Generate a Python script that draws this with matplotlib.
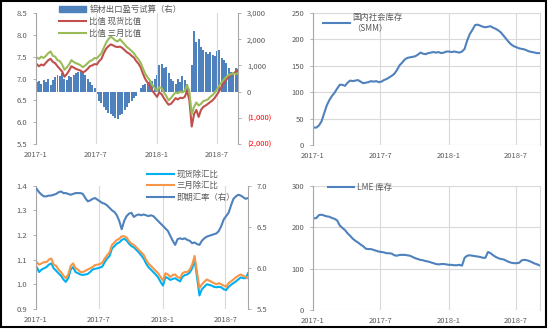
import numpy as np
import pandas as pd
import matplotlib
matplotlib.use('Agg')
import matplotlib.pyplot as plt
from matplotlib.ticker import FormatStrFormatter
from matplotlib.patches import Patch, Rectangle
from matplotlib.lines import Line2D

plt.rcParams['font.family'] = ['Noto Sans CJK SC', 'DejaVu Sans']
plt.rcParams['font.size'] = 5.5

# weekly observations, 2017-01-03 .. 2018-09-04
dates = pd.date_range('2017-01-03', periods=88, freq='7D')

# aluminium export profit estimate (right axis, yuan/t)
export_profit = [350, 400, 300, 450, 350, 500, 250, 450, 550, 650, 600, 700,
                 500, 450, 600, 550, 650, 700, 750, 800, 700, 650, 500, 350,
                 250, 150, -100, -350, -450, -600, -700, -800, -850, -950, -1000, -1050,
                 -900, -850, -700, -600, -450, -350, -250, -150, 0, 150, 250, 300,
                 350, 450, 400, 500, 650, 1000, 1050, 900, 950, 700, 500, 400,
                 300, 500, 350, 600, 450, 300, 100, 1000, 2300, 1900, 2000, 1700,
                 1600, 1500, 1450, 1500, 1400, 1350, 1550, 1600, 1300, 1200, 1100, 900,
                 750, 650, 900, 800]
# Shanghai / LME ratio, spot and 3-month
ratio_spot = [7.33, 7.28, 7.32, 7.30, 7.36, 7.42, 7.45, 7.38, 7.35, 7.28, 7.22, 7.16,
              7.04, 7.10, 7.18, 7.28, 7.25, 7.22, 7.20, 7.18, 7.14, 7.17, 7.22, 7.28,
              7.30, 7.33, 7.32, 7.40, 7.45, 7.58, 7.68, 7.74, 7.78, 7.76, 7.73, 7.72,
              7.73, 7.70, 7.65, 7.60, 7.57, 7.52, 7.48, 7.40, 7.34, 7.25, 7.10, 6.98,
              6.90, 6.82, 6.72, 6.65, 6.58, 6.68, 6.64, 6.55, 6.47, 6.40, 6.42, 6.48,
              6.55, 6.52, 6.56, 6.55, 6.58, 6.72, 6.50, 5.90, 6.18, 6.28, 6.12, 6.28,
              6.35, 6.38, 6.42, 6.46, 6.50, 6.56, 6.64, 6.72, 6.82, 6.90, 6.98, 7.04,
              7.08, 7.12, 7.15, 7.20]
ratio_3m = [7.48, 7.45, 7.50, 7.47, 7.52, 7.58, 7.62, 7.52, 7.50, 7.42, 7.40, 7.32,
            7.20, 7.25, 7.32, 7.42, 7.38, 7.35, 7.33, 7.30, 7.26, 7.30, 7.35, 7.40,
            7.42, 7.47, 7.46, 7.52, 7.58, 7.70, 7.82, 7.90, 7.96, 7.92, 7.87, 7.85,
            7.90, 7.84, 7.78, 7.72, 7.68, 7.63, 7.58, 7.50, 7.44, 7.35, 7.22, 7.10,
            7.02, 6.95, 6.85, 6.78, 6.72, 6.80, 6.78, 6.68, 6.60, 6.50, 6.55, 6.62,
            6.68, 6.66, 6.70, 6.68, 6.72, 6.85, 6.70, 6.18, 6.35, 6.45, 6.38, 6.42,
            6.48, 6.50, 6.52, 6.58, 6.62, 6.68, 6.76, 6.84, 6.92, 6.98, 7.04, 7.08,
            7.10, 7.12, 7.10, 7.12]

# domestic social inventory (SMM), 10k t
smm_stock = [33, 33, 37, 45, 60, 75, 85, 93, 99, 107, 114, 114,
             112, 118, 122, 121, 122, 123, 120, 117, 118, 119, 121, 120,
             121, 119, 120, 123, 125, 128, 131, 135, 142, 151, 156, 162,
             165, 166, 167, 168, 171, 175, 173, 172, 174, 175, 176, 175,
             176, 174, 175, 177, 177, 176, 177, 176, 175, 177, 182, 198,
             210, 218, 227, 228, 226, 224, 223, 224, 225, 222, 220, 217,
             213, 207, 201, 195, 190, 187, 185, 183, 182, 181, 179, 177,
             176, 175, 174, 174]

# ratio divided by exchange rate
spot_fx = [1.070, 1.050, 1.060, 1.065, 1.070, 1.080, 1.085, 1.065, 1.055, 1.045, 1.035, 1.020,
           1.010, 1.025, 1.060, 1.070, 1.050, 1.045, 1.040, 1.038, 1.040, 1.042, 1.050, 1.060,
           1.063, 1.065, 1.068, 1.072, 1.090, 1.105, 1.115, 1.145, 1.155, 1.165, 1.170, 1.180,
           1.185, 1.178, 1.165, 1.155, 1.150, 1.140, 1.130, 1.118, 1.105, 1.085, 1.070, 1.060,
           1.050, 1.040, 1.028, 1.010, 0.995, 1.030, 1.025, 1.018, 1.022, 1.025, 1.018, 1.012,
           1.030, 1.038, 1.040, 1.048, 1.065, 1.100, 1.030, 0.955, 0.980, 0.990, 1.000, 0.998,
           0.995, 0.990, 0.988, 0.990, 0.988, 0.980, 0.977, 0.990, 0.998, 1.005, 1.012, 1.020,
           1.028, 1.025, 1.025, 1.045]
m3_fx = [1.090, 1.080, 1.085, 1.090, 1.090, 1.100, 1.105, 1.080, 1.075, 1.060, 1.050, 1.035,
         1.025, 1.040, 1.075, 1.085, 1.065, 1.060, 1.050, 1.050, 1.055, 1.060, 1.065, 1.070,
         1.078, 1.080, 1.082, 1.088, 1.105, 1.118, 1.130, 1.160, 1.170, 1.180, 1.185, 1.195,
         1.195, 1.190, 1.175, 1.165, 1.160, 1.150, 1.140, 1.130, 1.120, 1.100, 1.085, 1.075,
         1.065, 1.055, 1.045, 1.030, 1.015, 1.045, 1.040, 1.030, 1.038, 1.040, 1.030, 1.025,
         1.045, 1.050, 1.050, 1.060, 1.080, 1.115, 1.050, 0.985, 1.000, 1.010, 1.020, 1.015,
         1.010, 1.005, 1.000, 1.005, 1.000, 0.995, 0.990, 1.005, 1.012, 1.020, 1.028, 1.035,
         1.040, 1.035, 1.030, 1.025]
# USD/CNY spot (right axis)
usdcny = [6.96, 6.92, 6.89, 6.87, 6.87, 6.88, 6.88, 6.89, 6.90, 6.92, 6.93, 6.91,
          6.91, 6.90, 6.89, 6.90, 6.91, 6.91, 6.91, 6.90, 6.85, 6.81, 6.82, 6.84,
          6.85, 6.83, 6.81, 6.79, 6.78, 6.76, 6.73, 6.70, 6.68, 6.64, 6.57, 6.47,
          6.57, 6.63, 6.66, 6.67, 6.62, 6.64, 6.65, 6.64, 6.65, 6.64, 6.63, 6.64,
          6.63, 6.60, 6.57, 6.54, 6.51, 6.48, 6.45, 6.39, 6.33, 6.28, 6.35, 6.36,
          6.35, 6.36, 6.34, 6.33, 6.30, 6.31, 6.29, 6.28, 6.33, 6.36, 6.38, 6.39,
          6.40, 6.41, 6.42, 6.45, 6.51, 6.59, 6.63, 6.67, 6.76, 6.84, 6.87, 6.89,
          6.88, 6.86, 6.84, 6.85]

# LME inventory, 10k t
lme_stock = [221, 222, 229, 230, 228, 226, 225, 222, 220, 216, 204, 198,
             193, 185, 179, 172, 167, 163, 158, 154, 148, 147, 147, 145,
             143, 141, 140, 139, 137, 137, 136, 132, 131, 133, 133, 133,
             132, 131, 128, 125, 123, 121, 120, 118, 117, 115, 113, 111,
             110, 111, 111, 110, 109, 109, 108, 108, 109, 107, 126, 131,
             132, 131, 130, 129, 128, 126, 126, 140, 137, 132, 128, 125,
             123, 122, 119, 116, 114, 113, 113, 114, 120, 121, 120, 118,
             115, 112, 110, 107]

month_ticks = pd.to_datetime(['2017-01-01', '2017-07-01', '2018-01-01', '2018-07-01'])
month_labels = ['2017-1', '2017-7', '2018-1', '2018-7']
x_start, x_end = pd.Timestamp('2017-01-01'), pd.Timestamp('2018-09-04')

TXT = '#595959'
GRID = '#D9D9D9'
SPINE = '#A6A6A6'
BLUE = '#4F81BD'


def style_xaxis(ax):
    ax.set_xlim(x_start, x_end)
    ax.set_xticks(month_ticks)
    ax.set_xticklabels(month_labels)
    ax.tick_params(axis='x', length=0, pad=5, colors=TXT, labelsize=5.5)
    ax.xaxis.grid(True, color=GRID, lw=0.8)
    ax.spines['top'].set_visible(False)
    ax.spines['bottom'].set_visible(False)


def style_yaxis(ax, side, lbl_color=TXT):
    ax.tick_params(axis='y', direction='out', length=2.5, width=0.6,
                   color=SPINE, labelcolor=lbl_color, labelsize=5.5, pad=4)
    ax.spines[side].set_color(SPINE)
    ax.spines[side].set_linewidth(0.8)


fig = plt.figure(figsize=(5.48, 3.30), dpi=100)

# ---- top left: export profit bars (right scale) + ratios (left scale)
ax1 = fig.add_axes([0.0657, 0.5636, 0.3686, 0.397])
ax1b = ax1.twinx()
ax1.bar(dates, export_profit, width=6, color=BLUE, zorder=1)
ax1.set_ylim(-2000, 3000)
pticks = [-2000, -1000, 0, 1000, 2000, 3000]
plabels = [f'{v:,}' if v >= 0 else f'({-v:,})' for v in pticks]
ax1.set_yticks(pticks)
ax1.set_yticklabels(plabels)
style_xaxis(ax1)
style_yaxis(ax1, 'right')
ax1.yaxis.tick_right()
ax1.spines['left'].set_visible(False)
for t, v in zip(ax1.get_yticklabels(), pticks):
    if v < 0:
        t.set_color('#FF0000')

ax1b.plot(dates, ratio_spot, color='#C0504D', lw=1.5)
ax1b.plot(dates, ratio_3m, color='#9BBB59', lw=1.5)
ax1b.set_ylim(5.5, 8.5)
ax1b.set_yticks(np.arange(5.5, 8.51, 0.5))
ax1b.yaxis.set_major_formatter(FormatStrFormatter('%.1f'))
ax1b.set_xlim(x_start, x_end)
style_yaxis(ax1b, 'left')
ax1b.yaxis.tick_left()
for s in ['top', 'bottom', 'right']:
    ax1b.spines[s].set_visible(False)
ax1b.legend([Patch(color=BLUE), Line2D([], [], color='#C0504D', lw=1.5),
             Line2D([], [], color='#9BBB59', lw=1.5)],
            ['铝材出口盈亏试算（右）', '比值 现货比值', '比值 三月比值'],
            loc='upper left', bbox_to_anchor=(0.115, 1.06), frameon=False,
            borderpad=0, borderaxespad=0, handlelength=3.2, handletextpad=0.4,
            labelspacing=0.35, fontsize=6, labelcolor=TXT)

# ---- top right: SMM social inventory
ax2 = fig.add_axes([0.5712, 0.5606, 0.4142, 0.4])
ax2.plot(dates, smm_stock, color=BLUE, lw=1.5)
ax2.set_ylim(0, 250)
ax2.set_yticks(range(0, 251, 50))
style_xaxis(ax2)
ax2.yaxis.grid(True, color=GRID, lw=0.8)
ax2.set_axisbelow(True)
style_yaxis(ax2, 'left')
ax2.spines['right'].set_color(GRID)
ax2.legend(['国内社会库存\n（SMM）'], loc='upper left', bbox_to_anchor=(0.045, 1.0),
           frameon=False, borderpad=0, borderaxespad=0, handlelength=3.2,
           handletextpad=0.3, fontsize=6, labelcolor=TXT)

# ---- bottom left: ratios over FX + USD/CNY
ax3 = fig.add_axes([0.0657, 0.0636, 0.3869, 0.3737])
ax3.plot(dates, spot_fx, color='#00B0F0', lw=1.5)
ax3.plot(dates, m3_fx, color='#F79646', lw=1.5)
ax3.set_ylim(0.9, 1.4)
ax3.set_yticks(np.arange(0.9, 1.41, 0.1))
ax3.yaxis.set_major_formatter(FormatStrFormatter('%.1f'))
style_xaxis(ax3)
style_yaxis(ax3, 'left')
ax3.spines['right'].set_visible(False)

ax3b = ax3.twinx()
ax3b.plot(dates, usdcny, color=BLUE, lw=1.5)
ax3b.set_ylim(5.5, 7.0)
ax3b.set_yticks([5.5, 6.0, 6.5, 7.0])
ax3b.yaxis.set_major_formatter(FormatStrFormatter('%.1f'))
ax3b.set_xlim(x_start, x_end)
style_yaxis(ax3b, 'right')
for s in ['top', 'bottom', 'left']:
    ax3b.spines[s].set_visible(False)
ax3b.legend([Line2D([], [], color='#00B0F0', lw=1.5), Line2D([], [], color='#F79646', lw=1.5),
             Line2D([], [], color=BLUE, lw=1.5)],
            ['现货除汇比', '三月除汇比', '即期汇率（右）'],
            loc='upper left', bbox_to_anchor=(0.525, 1.13), frameon=False,
            borderpad=0, borderaxespad=0, handlelength=3.2, handletextpad=0.3,
            labelspacing=0.3, fontsize=6, labelcolor=TXT)

# ---- bottom right: LME inventory
ax4 = fig.add_axes([0.5712, 0.0606, 0.4142, 0.3767])
ax4.plot(dates, lme_stock, color=BLUE, lw=1.5)
ax4.set_ylim(0, 300)
ax4.set_yticks([0, 100, 200, 300])
style_xaxis(ax4)
ax4.yaxis.grid(True, color=GRID, lw=0.8)
ax4.set_axisbelow(True)
style_yaxis(ax4, 'left')
ax4.spines['right'].set_color(GRID)
ax4.legend(['LME 库存'], loc='upper left', bbox_to_anchor=(0.065, 1.02),
           frameon=False, borderpad=0, borderaxespad=0, handlelength=3.2,
           handletextpad=0.3, fontsize=6, labelcolor=TXT)

# outer frame
fig.patches.append(Rectangle((0.002, 0.009), 0.994, 0.988, transform=fig.transFigure,
                             fill=False, edgecolor='black', lw=1.5))

fig.savefig('out.png', dpi=100)
